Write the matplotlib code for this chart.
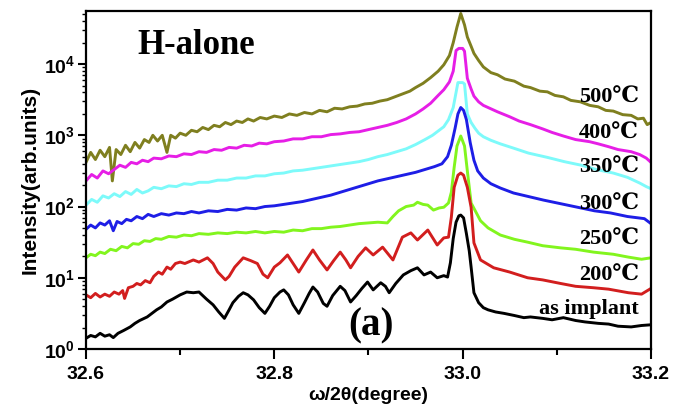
import matplotlib.pyplot as plt
import numpy as np
from matplotlib.ticker import FixedLocator, FixedFormatter, NullFormatter

plt.rcParams['font.family'] = ['Liberation Sans', 'DejaVu Sans']
plt.rcParams['font.weight'] = 'bold'
plt.rcParams['mathtext.fontset'] = 'custom'
plt.rcParams['mathtext.rm'] = 'Liberation Sans:bold'
plt.rcParams['mathtext.bf'] = 'Liberation Sans:bold'

# values: omega/2theta (degree) and log10(intensity)
x_500 = [32.600, 32.605, 32.610, 32.615, 32.620, 32.625, 32.628, 32.632, 32.637, 32.642, 32.647, 32.652,
         32.657, 32.662, 32.667, 32.671, 32.676, 32.681, 32.686, 32.690, 32.695, 32.700, 32.706, 32.712,
         32.718, 32.724, 32.730, 32.736, 32.742, 32.748, 32.754, 32.760, 32.766, 32.772, 32.778, 32.785,
         32.792, 32.800, 32.808, 32.816, 32.824, 32.832, 32.840, 32.848, 32.856, 32.864, 32.872, 32.880,
         32.888, 32.896, 32.904, 32.912, 32.920, 32.928, 32.936, 32.944, 32.950, 32.958, 32.966, 32.974,
         32.980, 32.986, 32.990, 32.994, 32.998, 33.002, 33.005, 33.009, 33.012, 33.017, 33.022, 33.030,
         33.037, 33.045, 33.055, 33.065, 33.072, 33.082, 33.090, 33.098, 33.107, 33.115, 33.125, 33.135,
         33.144, 33.152, 33.160, 33.170, 33.179, 33.186, 33.192, 33.196, 33.200]
lg_500 = [2.62, 2.76, 2.66, 2.79, 2.70, 2.83, 2.36, 2.80, 2.73, 2.86, 2.77, 2.90,
          2.82, 2.94, 2.90, 3.00, 2.92, 3.00, 2.76, 3.00, 2.96, 3.03, 3.00, 3.07,
          3.05, 3.11, 3.08, 3.14, 3.12, 3.18, 3.15, 3.20, 3.18, 3.23, 3.20, 3.25,
          3.23, 3.27, 3.25, 3.30, 3.28, 3.32, 3.30, 3.35, 3.33, 3.38, 3.37, 3.40,
          3.41, 3.44, 3.45, 3.48, 3.50, 3.54, 3.58, 3.62, 3.67, 3.73, 3.81, 3.90,
          3.99, 4.12, 4.30, 4.52, 4.71, 4.55, 4.38, 4.25, 4.15, 4.05, 3.96, 3.88,
          3.85, 3.79, 3.76, 3.69, 3.67, 3.62, 3.61, 3.56, 3.54, 3.49, 3.47, 3.42,
          3.40, 3.35, 3.34, 3.29, 3.28, 3.23, 3.24, 3.15, 3.18]

x_400 = [32.600, 32.606, 32.612, 32.618, 32.624, 32.630, 32.636, 32.642, 32.648, 32.654, 32.660, 32.666,
         32.672, 32.680, 32.688, 32.696, 32.704, 32.712, 32.720, 32.728, 32.736, 32.744, 32.752, 32.760,
         32.768, 32.776, 32.784, 32.792, 32.800, 32.810, 32.820, 32.830, 32.840, 32.850, 32.860, 32.870,
         32.880, 32.890, 32.900, 32.910, 32.920, 32.930, 32.940, 32.950, 32.958, 32.966, 32.974, 32.980,
         32.986, 32.990, 32.993, 32.996, 33.000, 33.002, 33.005, 33.009, 33.012, 33.017, 33.022, 33.027,
         33.037, 33.050, 33.060, 33.072, 33.085, 33.095, 33.107, 33.120, 33.135, 33.144, 33.155, 33.165,
         33.179, 33.188, 33.195, 33.200]
lg_400 = [2.36, 2.45, 2.40, 2.50, 2.46, 2.52, 2.58, 2.55, 2.62, 2.60, 2.65, 2.63,
          2.68, 2.67, 2.71, 2.70, 2.74, 2.73, 2.77, 2.76, 2.80, 2.79, 2.83, 2.82,
          2.86, 2.85, 2.89, 2.88, 2.91, 2.92, 2.95, 2.95, 2.98, 2.98, 3.01, 3.02,
          3.04, 3.05, 3.08, 3.11, 3.14, 3.18, 3.23, 3.30, 3.37, 3.45, 3.56, 3.64,
          3.75, 3.90, 4.19, 4.22, 4.22, 4.18, 3.80, 3.65, 3.55, 3.47, 3.42, 3.39,
          3.33, 3.26, 3.20, 3.15, 3.09, 3.04, 2.99, 2.94, 2.91, 2.88, 2.84, 2.80,
          2.77, 2.73, 2.68, 2.62]

x_350 = [32.600, 32.606, 32.612, 32.618, 32.624, 32.630, 32.636, 32.642, 32.648, 32.654, 32.660, 32.666,
         32.672, 32.680, 32.688, 32.696, 32.704, 32.712, 32.720, 32.730, 32.740, 32.750, 32.760, 32.770,
         32.780, 32.790, 32.800, 32.810, 32.820, 32.830, 32.840, 32.850, 32.860, 32.870, 32.880, 32.890,
         32.900, 32.910, 32.920, 32.930, 32.940, 32.950, 32.960, 32.968, 32.975, 32.980, 32.985, 32.990,
         32.993, 32.995, 33.000, 33.002, 33.005, 33.009, 33.013, 33.017, 33.022, 33.030, 33.040, 33.054,
         33.070, 33.090, 33.108, 33.126, 33.142, 33.160, 33.175, 33.188, 33.195, 33.200]
lg_350 = [2.02, 2.10, 2.06, 2.15, 2.12, 2.18, 2.14, 2.21, 2.17, 2.24, 2.19, 2.22,
          2.27, 2.25, 2.29, 2.28, 2.32, 2.31, 2.34, 2.34, 2.37, 2.37, 2.40, 2.40,
          2.43, 2.43, 2.46, 2.47, 2.50, 2.51, 2.53, 2.55, 2.57, 2.59, 2.61, 2.63,
          2.66, 2.70, 2.73, 2.77, 2.81, 2.87, 2.94, 3.00, 3.07, 3.12, 3.22, 3.39,
          3.60, 3.74, 3.74, 3.72, 3.30, 3.18, 3.10, 3.03, 2.98, 2.93, 2.88, 2.82,
          2.75, 2.69, 2.63, 2.58, 2.52, 2.47, 2.41, 2.33, 2.28, 2.25]

x_300 = [32.600, 32.605, 32.610, 32.615, 32.620, 32.625, 32.629, 32.633, 32.638, 32.643, 32.648, 32.654,
         32.660, 32.666, 32.672, 32.680, 32.688, 32.696, 32.704, 32.712, 32.720, 32.730, 32.740, 32.750,
         32.760, 32.770, 32.780, 32.790, 32.800, 32.810, 32.820, 32.830, 32.840, 32.850, 32.860, 32.870,
         32.880, 32.890, 32.900, 32.910, 32.920, 32.930, 32.940, 32.950, 32.960, 32.970, 32.978, 32.984,
         32.988, 32.992, 32.995, 32.998, 33.001, 33.004, 33.008, 33.012, 33.016, 33.022, 33.030, 33.040,
         33.054, 33.070, 33.086, 33.104, 33.122, 33.140, 33.157, 33.175, 33.193, 33.200]
lg_300 = [1.68, 1.74, 1.70, 1.77, 1.74, 1.80, 1.66, 1.79, 1.76, 1.82, 1.80, 1.86,
          1.83, 1.89, 1.86, 1.90, 1.88, 1.91, 1.90, 1.93, 1.91, 1.94, 1.93, 1.96,
          1.95, 1.98, 1.97, 2.00, 2.01, 2.03, 2.05, 2.07, 2.10, 2.13, 2.16, 2.20,
          2.24, 2.28, 2.32, 2.36, 2.39, 2.42, 2.45, 2.48, 2.52, 2.56, 2.60, 2.70,
          2.86, 3.10, 3.30, 3.39, 3.35, 3.22, 2.90, 2.65, 2.50, 2.40, 2.32, 2.26,
          2.19, 2.14, 2.09, 2.04, 1.99, 1.94, 1.91, 1.86, 1.83, 1.76]

x_250 = [32.600, 32.605, 32.610, 32.615, 32.620, 32.626, 32.632, 32.638, 32.644, 32.650, 32.656, 32.662,
         32.668, 32.674, 32.680, 32.688, 32.696, 32.704, 32.712, 32.720, 32.730, 32.740, 32.750, 32.760,
         32.770, 32.780, 32.790, 32.800, 32.810, 32.820, 32.830, 32.840, 32.850, 32.860, 32.870, 32.880,
         32.890, 32.900, 32.910, 32.920, 32.926, 32.932, 32.940, 32.948, 32.952, 32.958, 32.963, 32.969,
         32.975, 32.980, 32.985, 32.988, 32.991, 32.994, 32.998, 33.002, 33.005, 33.009, 33.013, 33.019,
         33.027, 33.040, 33.055, 33.069, 33.085, 33.104, 33.120, 33.139, 33.160, 33.176, 33.190, 33.200]
lg_250 = [1.28, 1.33, 1.31, 1.36, 1.34, 1.40, 1.38, 1.44, 1.42, 1.48, 1.47, 1.52,
          1.51, 1.55, 1.54, 1.58, 1.57, 1.60, 1.59, 1.62, 1.61, 1.63, 1.62, 1.64,
          1.63, 1.65, 1.63, 1.65, 1.64, 1.67, 1.66, 1.69, 1.69, 1.71, 1.72, 1.74,
          1.76, 1.77, 1.78, 1.77, 1.86, 1.94, 2.00, 2.02, 2.06, 2.03, 2.02, 1.95,
          1.98, 1.99, 2.05, 2.20, 2.55, 2.85, 2.99, 2.85, 2.50, 2.05, 1.95, 1.80,
          1.70, 1.60, 1.54, 1.50, 1.45, 1.42, 1.40, 1.36, 1.33, 1.29, 1.26, 1.28]

x_200 = [32.600, 32.605, 32.610, 32.615, 32.620, 32.625, 32.630, 32.635, 32.639, 32.641, 32.645, 32.650,
         32.654, 32.658, 32.663, 32.668, 32.672, 32.677, 32.681, 32.686, 32.690, 32.695, 32.700, 32.705,
         32.714, 32.720, 32.729, 32.735, 32.740, 32.748, 32.752, 32.758, 32.767, 32.775, 32.782, 32.788,
         32.793, 32.800, 32.806, 32.814, 32.820, 32.826, 32.834, 32.841, 32.848, 32.856, 32.863, 32.870,
         32.876, 32.881, 32.889, 32.897, 32.905, 32.915, 32.926, 32.936, 32.945, 32.952, 32.963, 32.973,
         32.980, 32.985, 32.988, 32.991, 32.995, 32.998, 33.001, 33.005, 33.009, 33.012, 33.019, 33.033,
         33.050, 33.069, 33.085, 33.104, 33.120, 33.139, 33.155, 33.176, 33.190, 33.200]
lg_200 = [0.76, 0.72, 0.78, 0.73, 0.77, 0.74, 0.80, 0.77, 0.82, 0.71, 0.86, 0.88,
          0.92, 0.90, 0.96, 0.93, 1.02, 1.08, 1.05, 1.15, 1.12, 1.20, 1.22, 1.20,
          1.25, 1.22, 1.28, 1.20, 1.08, 0.97, 1.02, 1.15, 1.28, 1.24, 1.20, 1.05,
          1.00, 1.15, 1.21, 1.32, 1.20, 1.08, 1.25, 1.39, 1.25, 1.11, 1.24, 1.36,
          1.25, 1.14, 1.30, 1.42, 1.32, 1.43, 1.25, 1.57, 1.63, 1.53, 1.67, 1.46,
          1.56, 1.57, 1.85, 2.27, 2.44, 2.47, 2.44, 2.27, 1.99, 1.49, 1.25, 1.14,
          1.08, 1.00, 0.97, 0.92, 0.88, 0.86, 0.84, 0.79, 0.77, 0.85]

x_imp = [32.600, 32.605, 32.610, 32.615, 32.620, 32.625, 32.629, 32.634, 32.640, 32.647, 32.652, 32.657,
         32.665, 32.670, 32.675, 32.680, 32.686, 32.692, 32.700, 32.707, 32.714, 32.720, 32.728, 32.735,
         32.741, 32.747, 32.752, 32.756, 32.762, 32.767, 32.772, 32.778, 32.784, 32.790, 32.795, 32.800,
         32.806, 32.810, 32.815, 32.820, 32.826, 32.832, 32.837, 32.841, 32.846, 32.852, 32.856, 32.862,
         32.870, 32.875, 32.881, 32.887, 32.893, 32.899, 32.905, 32.913, 32.918, 32.922, 32.929, 32.937,
         32.945, 32.952, 32.959, 32.966, 32.973, 32.980, 32.984, 32.987, 32.990, 32.993, 32.996, 32.998,
         33.001, 33.004, 33.007, 33.009, 33.012, 33.017, 33.022, 33.027, 33.035, 33.044, 33.055, 33.065,
         33.072, 33.085, 33.095, 33.107, 33.120, 33.130, 33.144, 33.155, 33.165, 33.179, 33.190, 33.200]
lg_imp = [0.15, 0.19, 0.17, 0.22, 0.18, 0.20, 0.16, 0.22, 0.26, 0.31, 0.36, 0.40,
          0.45, 0.50, 0.55, 0.59, 0.66, 0.70, 0.76, 0.80, 0.79, 0.80, 0.70, 0.62,
          0.52, 0.43, 0.55, 0.65, 0.74, 0.79, 0.76, 0.69, 0.58, 0.50, 0.60, 0.72,
          0.80, 0.83, 0.76, 0.62, 0.50, 0.65, 0.78, 0.87, 0.80, 0.64, 0.60, 0.75,
          0.88, 0.82, 0.66, 0.75, 0.85, 0.94, 0.83, 0.93, 0.88, 0.79, 0.92, 1.04,
          1.10, 1.14, 1.04, 1.08, 1.00, 1.03, 1.01, 1.21, 1.55, 1.78, 1.87, 1.88,
          1.84, 1.62, 1.38, 1.15, 0.79, 0.65, 0.58, 0.55, 0.52, 0.50, 0.47, 0.44,
          0.45, 0.43, 0.41, 0.44, 0.40, 0.38, 0.36, 0.35, 0.32, 0.31, 0.33, 0.34]

labels = ['500\u2103', '400\u2103', '350\u2103', '300\u2103', '250\u2103', '200\u2103', 'as implant']
xs = [x_500, x_400, x_350, x_300, x_250, x_200, x_imp]
lgs = [lg_500, lg_400, lg_350, lg_300, lg_250, lg_200, lg_imp]

colors = ['#7f7f1f', '#e61ee6', '#7dfafa', '#1e1ee6', '#82f51e', '#d21e1e', '#000000']
label_lg = [3.52, 3.02, 2.54, 2.03, 1.53, 1.02, 0.56]

fig = plt.figure(figsize=(6.84, 4.09), dpi=100)
ax = fig.add_axes([0.1257, 0.1467, 0.826, 0.8264])

for x, lg, c in zip(xs, lgs, colors):
    ax.plot(x, np.power(10.0, lg), color=c, lw=2.1)

serif = ['Liberation Serif', 'DejaVu Serif']
for lab, ly in zip(labels, label_lg):
    ax.text(33.187, 10 ** ly, lab, ha='right', va='center', fontsize=16,
            family=serif, fontweight='bold')

ax.text(32.717, 10 ** 4.26, 'H-alone', ha='center', va='center', fontsize=25,
        family=serif, fontweight='bold')
ax.text(32.903, 10 ** 0.33, '(a)', ha='center', va='center', fontsize=28,
        family=serif, fontweight='bold')

ax.set_yscale('log')
ax.set_xlim(32.6, 33.2)
ax.set_ylim(1, 10 ** 4.745)

ax.xaxis.set_major_locator(FixedLocator([32.6, 32.8, 33.0, 33.2]))
ax.xaxis.set_minor_locator(FixedLocator([32.7, 32.9, 33.1]))
ax.set_xticklabels(['32.6', '32.8', '33.0', '33.2'])
ax.yaxis.set_major_locator(FixedLocator([1, 10, 100, 1000, 10000]))
ax.yaxis.set_major_formatter(FixedFormatter([r'$\mathbf{10^{0}}$', r'$\mathbf{10^{1}}$', r'$\mathbf{10^{2}}$',
                                             r'$\mathbf{10^{3}}$', r'$\mathbf{10^{4}}$']))
ax.yaxis.set_minor_formatter(NullFormatter())

ax.tick_params(axis='x', which='major', direction='out', length=7, width=1.5, labelsize=14, pad=5)
ax.tick_params(axis='x', which='minor', direction='out', length=4, width=1.5)
ax.tick_params(axis='y', which='major', direction='out', length=6, width=1.5, labelsize=14, pad=2)
ax.tick_params(axis='y', which='minor', direction='out', length=3, width=1.0)
for s in ax.spines.values():
    s.set_linewidth(1.6)

ax.set_xlabel('\u03c9/2\u03b8(degree)', fontsize=14, fontweight='bold', labelpad=3)
ax.set_ylabel('Intensity(arb.units)', fontsize=15, fontweight='bold', labelpad=3)

fig.savefig('out.png', dpi=100)
